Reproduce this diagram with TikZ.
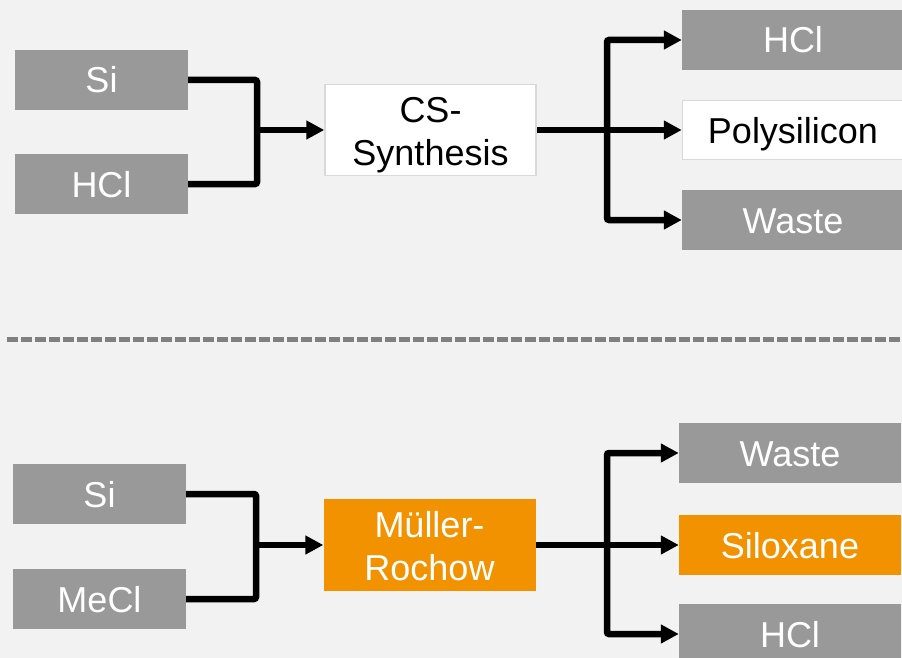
\documentclass[tikz,border=0pt]{standalone}
\usepackage{fontspec}
\setmainfont{Liberation Sans}
\usetikzlibrary{arrows.meta}
\definecolor{bggray}{HTML}{F2F2F2}
\definecolor{boxgray}{HTML}{999999}
\definecolor{boxorange}{HTML}{F39200}
\definecolor{rimgray}{HTML}{D9D9D9}
\definecolor{dashgray}{HTML}{808080}

\begin{document}
\begin{tikzpicture}[x=1pt,y=-1pt,
    lbl/.style={inner sep=0pt,font=\fontsize{36}{43}\selectfont,text height=26pt,text depth=0pt},
    graybox/.style={lbl,fill=boxgray,text=white},
    whitebox/.style={lbl,fill=white,draw=rimgray,line width=1.5pt},
    orangebox/.style={lbl,fill=boxorange,text=white},
    twoline/.style={align=center,text height=70pt,text depth=0pt},
    feed/.style={line width=6.5pt,rounded corners=2pt},
    arr/.style={feed,-{Triangle[length=18pt,width=18pt]}}]
                \clip (0,0) rectangle (902,658);
                \fill[bggray] (0,0) rectangle (902,658);
                % upper route
                \node[graybox,minimum width=173pt,minimum height=60pt] (si1) at (101.5,80) {Si};
                \node[graybox,minimum width=173pt,minimum height=60pt] (hcl1) at (101.5,184) {HCl};
                \node[whitebox,twoline,minimum width=211pt,minimum height=91pt] (cs) at (430.5,130) {CS-\\Synthesis};
                \node[graybox,minimum width=222pt,minimum height=60pt] (hcl2) at (793,40) {HCl};
                \node[whitebox,minimum width=221pt,minimum height=59pt] (poly) at (793,130) {Polysilicon};
                \node[graybox,minimum width=222pt,minimum height=60pt] (waste1) at (793,220) {Waste};
                \coordinate (ja) at (257,130);
                \coordinate (jb) at (607,130);
                \draw[feed] (si1.east) -| (ja) |- (hcl1.east);
                \draw[arr] (ja) -- (cs.west);
                \draw[arr] (cs.east) -- (poly.west);
                \draw[arr] (jb) |- (hcl2.west);
                \draw[arr] (jb) |- (waste1.west);
                % separator
                \draw[dashgray,line width=5pt,dash pattern=on 11pt off 3pt] (7,339) -- (902,339);
                % lower route
                \node[graybox,minimum width=173pt,minimum height=60pt] (si2) at (99.5,494) {Si};
                \node[graybox,minimum width=173pt,minimum height=60pt] (mecl) at (99.5,599) {MeCl};
                \node[orangebox,twoline,minimum width=212pt,minimum height=92pt] (mr) at (429.5,545) {Müller-\\Rochow};
                \node[graybox,minimum width=222pt,minimum height=60pt] (waste2) at (790,453) {Waste};
                \node[orangebox,minimum width=222pt,minimum height=60pt] (silox) at (790,545) {Siloxane};
                \node[graybox,minimum width=222pt,minimum height=60pt] (hcl3) at (790,634) {HCl};
                \coordinate (jc) at (256,545);
                \coordinate (jd) at (607,545);
                \draw[feed] (si2.east) -| (jc) |- (mecl.east);
                \draw[arr] (jc) -- (mr.west);
                \draw[arr] (mr.east) -- (silox.west);
                \draw[arr] (jd) |- (waste2.west);
                \draw[arr] (jd) |- (hcl3.west);
            \end{tikzpicture}
\end{document}
